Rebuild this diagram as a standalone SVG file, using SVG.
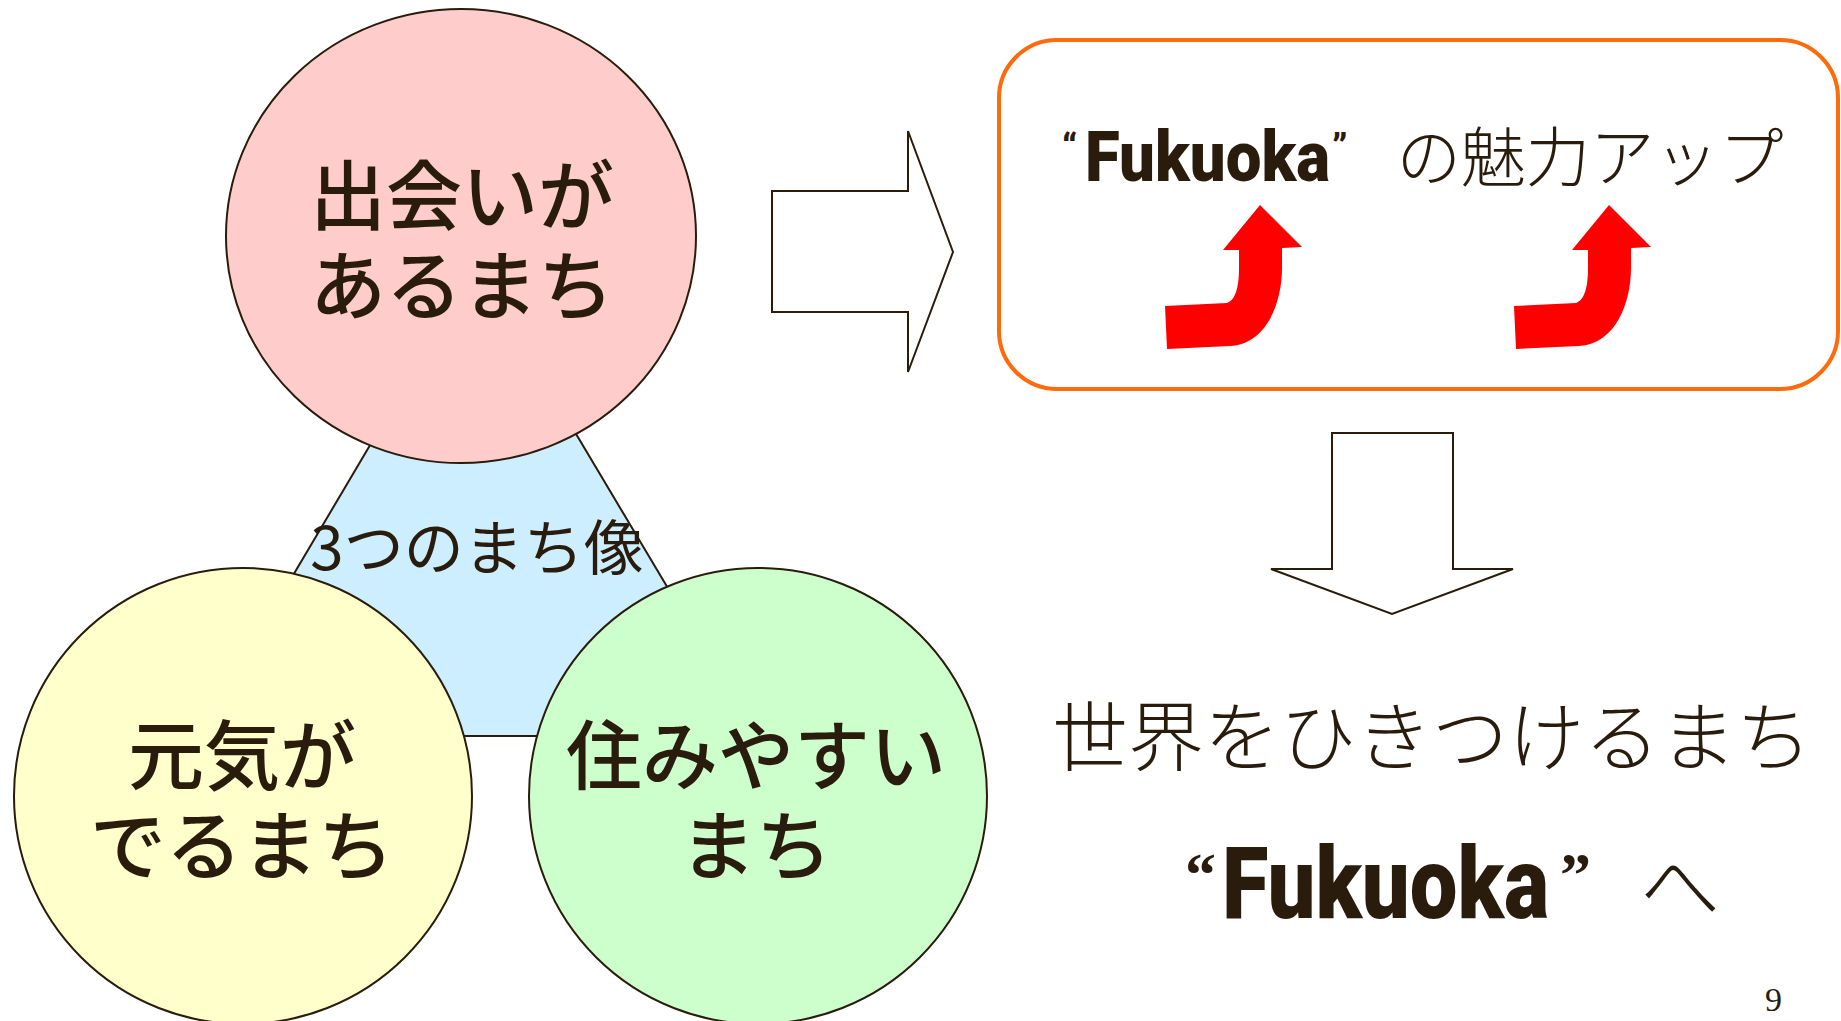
<svg xmlns="http://www.w3.org/2000/svg" width="1841" height="1021" viewBox="0 0 1841 1021">
<defs>
<style>
.bg{fill:#ffffff}
.shape{stroke:#2a1c0c;stroke-width:2}
.jp{font-family:"Noto Sans CJK JP","Noto Sans",sans-serif;fill:#2a1c0c}
.big{font-size:76px;font-weight:500}
.lite{font-weight:300}
.fuk{font-family:Roboto,"Liberation Sans",sans-serif;font-weight:900;fill:#2a1c0c}
.q{font-family:"Liberation Serif",serif;font-weight:700;fill:#2a1c0c}
.red{fill:#ff0000}
</style>
<path id="upArrow" d="M1260,205 L1302,247 L1282,248 L1282,268 C1282,302 1267,344 1230,346 L1167,349 L1165,306 L1227,303 C1236,300 1239,286 1239,268 L1239,250 L1223,250 Z"/>
</defs>
<rect class="bg" x="0" y="0" width="1841" height="1021"/>

<g id="triangle-center">
<polygon class="shape" points="476,266 198,736 756,736" fill="#cceeff"/>
<text class="jp" x="477" y="570" font-size="60" text-anchor="middle">3つのまち像</text>
</g>

<g id="node-deai">
<ellipse class="shape" cx="461" cy="236" rx="235" ry="227" fill="#ffcccc"/>
<text class="jp big" x="462" y="224" text-anchor="middle">出会いが</text>
<text class="jp big" x="462" y="314" text-anchor="middle">あるまち</text>
</g>

<g id="node-genki">
<ellipse class="shape" cx="243" cy="796" rx="229" ry="228" fill="#ffffcc"/>
<text class="jp big" x="242" y="784" text-anchor="middle">元気が</text>
<text class="jp big" x="242" y="874" text-anchor="middle">でるまち</text>
</g>

<g id="node-sumi">
<ellipse class="shape" cx="758" cy="796" rx="229" ry="228" fill="#ccffcc"/>
<text class="jp big" x="756" y="784" text-anchor="middle">住みやすい</text>
<text class="jp big" x="756" y="874" text-anchor="middle">まち</text>
</g>

<g id="node-miryoku">
<rect x="999" y="40" width="839" height="349" rx="58" ry="58" fill="#ffffff" stroke="#ff6a0a" stroke-width="4"/>
<text class="fuk" x="1062" y="160" font-size="36">“</text>
<text class="fuk" x="1085" y="181" font-size="70" textLength="245" lengthAdjust="spacingAndGlyphs">Fukuoka</text>
<text class="fuk" x="1332" y="160" font-size="36">”</text>
<text class="jp lite" x="1590" y="181" font-size="64.5" text-anchor="middle">の魅力アップ</text>
<use href="#upArrow" class="red"/>
<use href="#upArrow" class="red" transform="translate(349,0)"/>
</g>

<g id="node-sekai">
<text class="jp lite" x="1432" y="765" font-size="76" text-anchor="middle">世界をひきつけるまち</text>
<text class="q" x="1185" y="895" font-size="62" font-weight="400">“</text>
<text class="fuk" x="1222" y="918" font-size="101" textLength="327" lengthAdjust="spacingAndGlyphs">Fukuoka</text>
<text class="q" x="1560" y="895" font-size="62" font-weight="400">”</text>
<text class="jp lite" x="1640" y="915" font-size="80">へ</text>
</g>

<g id="connectors">
<polygon class="shape" fill="#ffffff" points="772,191 908,191 908,131 953,252 908,372 908,312 772,312"/>
<polygon class="shape" fill="#ffffff" points="1332,433 1453,433 1453,569 1513,569 1392,614 1271,569 1332,569"/>
</g>

<text x="1765" y="1011" font-family="Liberation Serif,serif" font-size="34" fill="#2a1c0c">9</text>
</svg>
